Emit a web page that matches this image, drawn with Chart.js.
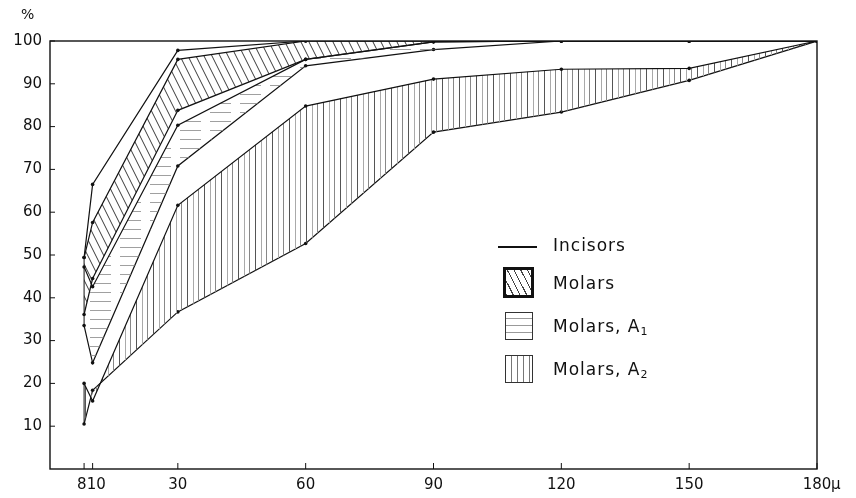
<!DOCTYPE html>
<html lang="en">
<head>
  <meta charset="UTF-8">
  <title>Molars and incisors</title>
  <style>
    body {
      margin: 0;
      background: white;
      font-family: 'DejaVu Sans', sans-serif;
      color: #111;
    }
    .wrap {
      position: relative;
      width: 856px;
      height: 498px;
    }
    .txt {
      position: absolute;
      line-height: 20px;
      white-space: nowrap;
    }
    .legend-text {
      font-size: 17px;
      letter-spacing: 1px;
      left: 553px;
    }
    .legend-text sub {
      font-size: 11px;
      vertical-align: -3px;
      letter-spacing: 0;
    }
    .sw {
      position: absolute;
      box-sizing: border-box;
    }
  </style>
  <script src="https://cdn.jsdelivr.net/npm/chart.js"></script>
</head>
<body>
  <div class="wrap">
    <canvas id="teethChart" width="856" height="498"></canvas>

    <div class="txt" style="left:21px; top:4px; font-size:14px;">%</div>
    <div class="txt" style="left:831px; top:474px; font-size:15px;">μ</div>

    <!-- legend -->
    <div class="sw" style="left:498px; top:246px; width:39px; height:1.5px; background:#111;"></div>
    <div class="txt legend-text" style="top:235px;">Incisors</div>

    <div class="sw" style="left:503px; top:267px; width:31px; height:31px; border:3px solid #111;
      background: repeating-linear-gradient(63deg, #444 0 1px, transparent 1px 6px);"></div>
    <div class="txt legend-text" style="top:273px;">Molars</div>

    <div class="sw" style="left:505px; top:312px; width:28px; height:28px; border:1px solid #333;
      background: repeating-linear-gradient(0deg, transparent 0 6px, #999 6px 7px);"></div>
    <div class="txt legend-text" style="top:316px;">Molars, A<sub>1</sub></div>

    <div class="sw" style="left:505px; top:355px; width:28px; height:28px; border:1px solid #333;
      background: repeating-linear-gradient(90deg, transparent 0 5px, #777 5px 6px);"></div>
    <div class="txt legend-text" style="top:359px;">Molars, A<sub>2</sub></div>
  </div>

  <script>
    // particle size (μ) and cumulative percentages
    const sizes = [8, 10, 30, 60, 90, 120, 150, 180];
    const xTickLabels = ['8 ', '\u200210', '30', '60', '90', '120', '150', '180'];
    const yTicks = [10, 20, 30, 40, 50, 60, 70, 80, 90, 100];

    const incisors   = [49.4, 66.5, 97.8, 100, 100, 100, 100, 100];
    const molarsHigh = [49.4, 57.6, 95.7, 100, 100, 100, 100, 100];
    const molarsLow  = [36.1, 44.5, 83.8, 95.7, 99.8, 100, 100, 100];
    const a1High     = [47.2, 42.6, 80.3, 95.7, 99.8, 100, 100, 100];
    const a1Low      = [33.5, 24.8, 70.8, 94.2, 98.0, 100, 100, 100];
    const a2High     = [20.0, 15.9, 61.6, 84.8, 91.1, 93.4, 93.6, 100];
    const a2Low      = [10.5, 18.4, 36.7, 52.7, 78.7, 83.4, 90.8, 100];

    const ink = '#111';

    function makePattern(w, h, draw) {
      const c = document.createElement('canvas');
      c.width = w;
      c.height = h;
      const g = c.getContext('2d');
      draw(g);
      return g.createPattern(c, 'repeat');
    }

    // diagonal hatch for molars
    const molarsFill = makePattern(8, 16, g => {
      g.strokeStyle = '#222';
      g.lineWidth = 0.9;
      [-8, 0, 8].forEach(dx => {
        g.beginPath();
        g.moveTo(dx - 2, -4);
        g.lineTo(dx + 10, 20);
        g.stroke();
      });
    });
    // broken horizontal lines for A1
    const a1Fill = makePattern(30, 9, g => {
      g.strokeStyle = '#888';
      g.lineWidth = 0.8;
      g.beginPath();
      g.moveTo(0, 4.5);
      g.lineTo(21, 4.5);
      g.stroke();
    });
    // vertical lines for A2
    const a2Fill = makePattern(17, 6, g => {
      g.lineWidth = 1;
      [[0.5, '#555'], [6.5, '#aaa'], [11.5, '#888']].forEach(([x, col]) => {
        g.strokeStyle = col;
        g.beginPath();
        g.moveTo(x, 0);
        g.lineTo(x, 6);
        g.stroke();
      });
    });

    const pts = arr => arr.map((v, i) => ({ x: sizes[i], y: v }));

    const line = (label, values, fill, bg) => ({
      label: label,
      data: pts(values),
      borderColor: ink,
      borderWidth: 1.2,
      pointRadius: 1.8,
      pointBackgroundColor: ink,
      pointBorderWidth: 0,
      tension: 0,
      fill: fill,
      backgroundColor: bg || 'transparent'
    });

    // frame, inward ticks and the closing edge at the first size
    const framePlugin = {
      id: 'frame',
      afterDraw(chart) {
        const { ctx, chartArea: a, scales: { x, y } } = chart;
        ctx.save();
        ctx.strokeStyle = ink;
        ctx.lineWidth = 1.4;
        ctx.strokeRect(a.left, a.top, a.right - a.left, a.bottom - a.top);
        ctx.lineWidth = 1;
        ctx.beginPath();
        sizes.forEach(v => {
          const px = x.getPixelForValue(v);
          ctx.moveTo(px, a.bottom);
          ctx.lineTo(px, a.bottom - 6);
        });
        yTicks.forEach(v => {
          const py = y.getPixelForValue(v);
          ctx.moveTo(a.left, py);
          ctx.lineTo(a.left + 5, py);
        });
        const x0 = x.getPixelForValue(sizes[0]);
        ctx.moveTo(x0, y.getPixelForValue(molarsHigh[0]));
        ctx.lineTo(x0, y.getPixelForValue(a1Low[0]));
        ctx.moveTo(x0, y.getPixelForValue(a2High[0]));
        ctx.lineTo(x0, y.getPixelForValue(a2Low[0]));
        ctx.stroke();
        ctx.restore();
      }
    };

    const tickFont = { family: "'DejaVu Sans', sans-serif", size: 15 };

    const ctx = document.getElementById('teethChart').getContext('2d');
    const teethChart = new Chart(ctx, {
      type: 'line',
      data: {
        datasets: [
          line('Incisors', incisors, false),
          line('Molars', molarsHigh, '+1', molarsFill),
          line('Molars low', molarsLow, false),
          line('Molars, A1', a1High, '+1', a1Fill),
          line('Molars, A1 low', a1Low, false),
          line('Molars, A2', a2High, '+1', a2Fill),
          line('Molars, A2 low', a2Low, false)
        ]
      },
      options: {
        responsive: false,
        animation: false,
        layout: { padding: { top: 41, right: 39, left: 0, bottom: 0 } },
        scales: {
          x: {
            type: 'linear',
            min: 0,
            max: 180,
            afterBuildTicks: s => { s.ticks = sizes.map(v => ({ value: v })); },
            afterFit: s => { s.height = 29; },
            grid: { display: false, drawTicks: false },
            border: { display: false },
            ticks: {
              autoSkip: false,
              maxRotation: 0,
              padding: 7,
              color: ink,
              font: tickFont,
              callback: (v, i) => xTickLabels[i]
            }
          },
          y: {
            min: 0,
            max: 100,
            afterBuildTicks: s => { s.ticks = yTicks.map(v => ({ value: v })); },
            afterFit: s => { s.width = 50; },
            grid: { display: false, drawTicks: false },
            border: { display: false },
            ticks: {
              padding: 8,
              color: ink,
              font: tickFont
            }
          }
        },
        plugins: {
          legend: { display: false },
          tooltip: { enabled: false }
        }
      },
      plugins: [framePlugin]
    });
  </script>
</body>
</html>
